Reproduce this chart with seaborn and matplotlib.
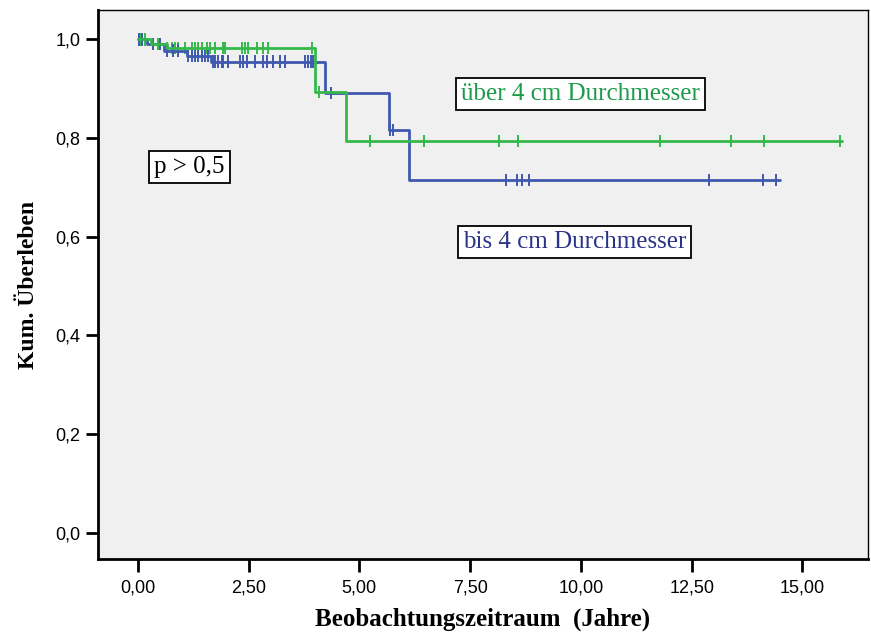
import numpy as np
import pandas as pd
import seaborn as sns
import matplotlib.pyplot as plt

# Kaplan-Meier Stufen (Zeit in Jahren, kum. Überleben)
gross_t = [0.0, 0.3, 0.65, 4.0, 4.69, 15.9]
gross_s = [1.0, 0.99, 0.982, 0.893, 0.794, 0.794]
klein_t = [0.0, 0.2, 0.6, 1.1, 1.65, 4.22, 5.67, 6.12, 14.5]
klein_s = [1.0, 0.99, 0.977, 0.966, 0.955, 0.891, 0.816, 0.715, 0.715]

# zensierte Fälle
gross_zens = [0.05, 0.15, 0.45, 0.65, 0.77, 0.84, 0.9, 1.06, 1.22, 1.29, 1.35, 1.44,
              1.56, 1.63, 1.74, 1.92, 1.96, 2.35, 2.42, 2.48, 2.69, 2.82, 2.93, 3.93,
              4.09, 5.25, 6.46, 8.15, 8.59, 11.78, 13.38, 14.13, 15.85]
klein_zens = [0.02, 0.1, 0.35, 0.5, 0.65, 0.8, 0.9, 1.13, 1.22, 1.29, 1.35, 1.44, 1.51,
              1.58, 1.69, 1.74, 1.81, 1.9, 1.92, 2.03, 2.3, 2.37, 2.46, 2.64, 2.82,
              2.91, 3.05, 3.2, 3.32, 3.77, 3.84, 3.9, 3.95, 4.37, 5.7, 5.75,
              8.3, 8.55, 8.68, 8.84, 12.89, 14.1, 14.4]

gruen = '#35b84a'
blau = '#4059b0'


def kurve(t, s, name):
    return pd.DataFrame({'Zeit': t, 'Surv': s, 'Gruppe': name})


def zensiert(t_z, t, s, name):
    idx = np.searchsorted(t, t_z, side='right') - 1
    return pd.DataFrame({'Zeit': t_z, 'Surv': np.array(s)[idx], 'Gruppe': name})


linien = pd.concat([kurve(gross_t, gross_s, 'gross'), kurve(klein_t, klein_s, 'klein')])
marken = pd.concat([zensiert(gross_zens, gross_t, gross_s, 'gross'),
                    zensiert(klein_zens, klein_t, klein_s, 'klein')])
farben = {'gross': gruen, 'klein': blau}

sns.set_style('ticks')
fig = plt.figure(figsize=(8.71, 6.32), dpi=100)
ax = fig.add_axes([0.1125, 0.1155, 0.884, 0.8687])
ax.set_facecolor('#f0f0f0')

sns.lineplot(data=linien, x='Zeit', y='Surv', hue='Gruppe', palette=farben,
             estimator=None, drawstyle='steps-post', linewidth=2, legend=False,
             ax=ax, hue_order=['klein', 'gross'])
sns.scatterplot(data=marken, x='Zeit', y='Surv', hue='Gruppe', palette=farben,
                marker='|', s=80, linewidth=1.4, legend=False, ax=ax)

ax.set_xlim(-0.9, 16.48)
ax.set_ylim(-0.0533, 1.0595)
ax.set_xticks([0, 2.5, 5, 7.5, 10, 12.5, 15])
ax.set_xticklabels(['0,00', '2,50', '5,00', '7,50', '10,00', '12,50', '15,00'],
                   family='Liberation Sans', fontsize=13)
ax.set_yticks([0, 0.2, 0.4, 0.6, 0.8, 1.0])
ax.set_yticklabels(['0,0', '0,2', '0,4', '0,6', '0,8', '1,0'],
                   family='Liberation Sans', fontsize=13)
ax.tick_params(direction='out', length=9, width=2, color='black', labelcolor='black')
ax.tick_params(axis='x', pad=6)
ax.tick_params(axis='y', pad=3.5)

for sp in ax.spines.values():
    sp.set_color('black')
ax.spines['left'].set_linewidth(2)
ax.spines['bottom'].set_linewidth(2)
ax.spines['top'].set_linewidth(1.0)
ax.spines['right'].set_linewidth(1.0)

ax.set_xlabel('Beobachtungszeitraum  (Jahre)', family='Liberation Serif',
              fontweight='bold', fontsize=18, labelpad=8, color='black')
ax.set_ylabel('Kum. Überleben', family='Liberation Serif',
              fontweight='bold', fontsize=17, labelpad=12, color='black')

box = dict(boxstyle='square,pad=0.2', facecolor='white', edgecolor='black', linewidth=1.3)
ax.text(10.0, 0.89, 'über 4 cm Durchmesser', color='#1e9a4c', family='Liberation Serif',
        fontsize=18, ha='center', va='center', bbox=box)
ax.text(9.86, 0.59, 'bis 4 cm Durchmesser', color='#2b3388', family='Liberation Serif',
        fontsize=18, ha='center', va='center', bbox=box)
ax.text(1.17, 0.741, 'p > 0,5', color='black', family='Liberation Serif',
        fontsize=18, ha='center', va='center', bbox=box)

fig.savefig('out.png', dpi=100)
